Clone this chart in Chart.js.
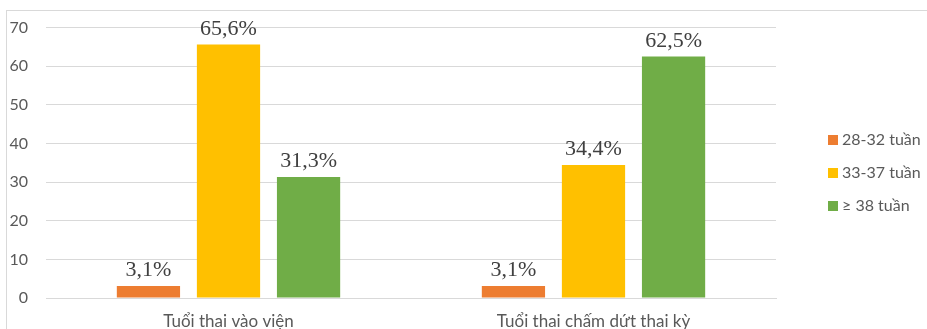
<!DOCTYPE html>
<html>
<head>
<meta charset="utf-8">
<script src="https://cdn.jsdelivr.net/npm/chart.js@4/dist/chart.umd.min.js"></script>
<style>
  html, body { margin: 0; padding: 0; background: #fff; overflow: hidden; }
  #wrap { width: 927px; height: 329px; }
</style>
</head>
<body>
<div id="wrap"><canvas id="myChart" width="927" height="329"></canvas></div>
<script>
// Données du graphique
const categories = ['Tuổi thai vào viện', 'Tuổi thai chấm dứt thai kỳ'];
const seriesNames = ['28-32 tuần', '33-37 tuần', '≥ 38 tuần'];
const seriesColors = ['#ED7D31', '#FFC000', '#70AD47'];
const values2832 = [3.1, 3.1];
const values3337 = [65.6, 34.4];
const values38 = [31.3, 62.5];
const yTicks = [0, 10, 20, 30, 40, 50, 60, 70];

const allValues = [values2832, values3337, values38];

// Cadre gris autour du graphique
const framePlugin = {
    id: 'frame',
    beforeDraw(chart) {
        const ctx = chart.ctx;
        ctx.save();
        ctx.strokeStyle = '#d9d9d9';
        ctx.lineWidth = 1;
        ctx.strokeRect(6.5, 10.5, 1000, 1000);
        ctx.restore();
    }
};

// Étiquettes de valeur au-dessus des barres
const valueLabels = {
    id: 'valueLabels',
    afterDatasetsDraw(chart) {
        const ctx = chart.ctx;
        ctx.save();
        ctx.font = '22px "Liberation Serif", "Times New Roman", serif';
        ctx.fillStyle = '#404040';
        ctx.textAlign = 'center';
        ctx.textBaseline = 'alphabetic';
        chart.data.datasets.forEach((ds, i) => {
            const meta = chart.getDatasetMeta(i);
            meta.data.forEach((bar, j) => {
                const txt = ds.data[j].toFixed(1).replace('.', ',') + '%';
                ctx.fillText(txt, bar.x, bar.y - 10);
            });
        });
        ctx.restore();
    }
};

// Légende dessinée à droite
const sideLegend = {
    id: 'sideLegend',
    afterDraw(chart) {
        const ctx = chart.ctx;
        ctx.save();
        ctx.font = '16px Lato, "Open Sans", sans-serif';
        ctx.textBaseline = 'middle';
        chart.data.datasets.forEach((ds, i) => {
            const y = 140 + i * 33;
            ctx.fillStyle = ds.backgroundColor;
            ctx.fillRect(828, y - 5, 10, 10);
            ctx.fillStyle = '#595959';
            ctx.fillText(ds.label, 842, y);
        });
        ctx.restore();
    }
};

const ctx = document.getElementById('myChart').getContext('2d');

new Chart(ctx, {
    type: 'bar',
    data: {
        labels: categories,
        datasets: seriesNames.map((name, i) => ({
            label: name,
            data: allValues[i],
            backgroundColor: seriesColors[i],
            borderWidth: 0
        }))
    },
    options: {
        responsive: false,
        animation: false,
        layout: {
            padding: { left: 9, right: 151, top: 24, bottom: 0 }
        },
        datasets: {
            bar: {
                categoryPercentage: 0.658,
                barPercentage: 0.79
            }
        },
        plugins: {
            legend: { display: false },
            tooltip: { enabled: false }
        },
        scales: {
            x: {
                afterFit(scale) { scale.height = 31; },
                grid: { display: false, drawTicks: false },
                border: { display: true, color: '#d9d9d9' },
                ticks: {
                    color: '#595959',
                    padding: 13,
                    font: { family: 'Lato, "Open Sans", sans-serif', size: 17 }
                }
            },
            y: {
                min: 0,
                max: 70,
                afterBuildTicks(scale) {
                    scale.ticks = yTicks.map(v => ({ value: v }));
                },
                afterFit(scale) { scale.width = 37; },
                grid: { color: '#d9d9d9', drawTicks: false },
                border: { display: false },
                ticks: {
                    color: '#595959',
                    padding: 18,
                    font: { family: 'Lato, "Open Sans", sans-serif', size: 16 }
                }
            }
        }
    },
    plugins: [framePlugin, valueLabels, sideLegend]
});
</script>
</body>
</html>
